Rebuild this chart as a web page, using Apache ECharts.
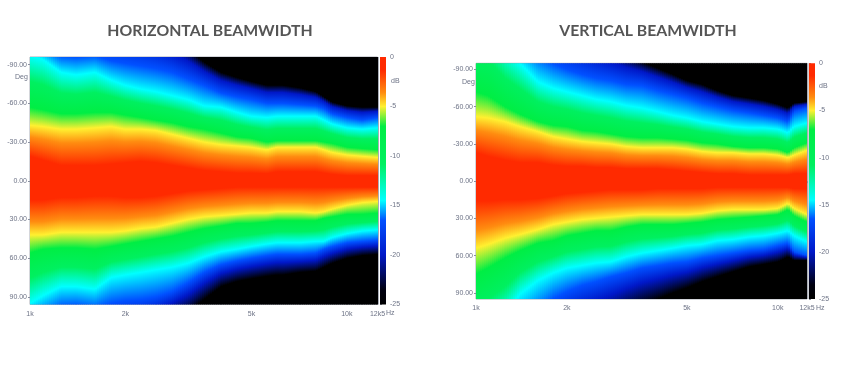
<!DOCTYPE html>
<html><head><meta charset="utf-8">
<style>html,body{margin:0;padding:0;background:#fff}#c{width:850px;height:366px}</style>
<script src="https://cdn.jsdelivr.net/npm/echarts@6/dist/echarts.min.js"></script>
</head><body><div id="c"></div>
<script>
// Frequencies (Hz) of the read columns
const hFreq=[1000,1100,1250,1400,1600,1800,2000,2240,2500,2800,3150,3550,4000,4500,5000,5600,6000,6300,7100,8000,8500,9000,10000,11200,12500];
const vFreq=[1000,1100,1250,1400,1600,1800,2000,2240,2500,2800,3150,3550,4000,4500,5000,5600,6300,7100,8000,9000,10000,10800,11300,12500];
// Horizontal: angle (deg) of each colour contour on the negative and positive side
const hRedTop=[-19,-16,-12,-12,-12,-13,-14,-15,-14,-12,-10,-8,-7,-6,-6,-5.5,-7,-7,-7,-7,-6,-5,-4,-4,-4];
const hYelTop=[-43,-42,-40,-40,-41,-42,-40,-40,-39,-36,-33,-30,-28,-27,-26,-24,-26,-26,-26,-26,-24,-22,-20,-19,-18];
const hGrnTop=[-57,-55,-52,-52,-53,-53,-51,-49,-47,-45,-42,-40,-37,-34,-33,-30,-31,-31,-31,-31,-30,-29,-26,-25,-24];
const hCyaTop=[-97,-94,-84,-82,-84,-78,-74,-71,-69,-66,-63,-58,-57,-53,-50,-49,-50,-50,-50,-50,-47,-44,-41,-40,-41];
const hBluTop=[-108,-104,-97,-96,-97,-93,-91,-89,-87,-84,-79,-74,-68,-65,-63,-60,-60,-60,-59,-58,-56,-52,-49,-47,-49];
const hBlkTop=[-140,-136,-133,-131,-133,-129,-125,-121,-116,-109,-102,-92,-84,-80,-77,-74,-74,-74,-72,-69,-65,-61,-58,-57,-57];
const hRedBot=[15,15,13,13,12,12,13,13,12,10,8,7,6,5,5,5,5,5,5,5,5,5,5,5,5];
const hYelBot=[42,42,40,40,40,40,39,37,36,33,30,28,27,26,25,25,24,24,24,25,24,22,19,17,16];
const hGrnBot=[56,53,52,52,53,51,49,47,45,43,40,37,35,33,33,32,31,31,31,31,29,28,26,26,25];
const hCyaBot=[95,89,82,82,84,75,73,71,69,67,64,59,55,53,51,49,48,48,48,47,47,44,41,39,38];
const hBluBot=[110,105,98,97,99,95,93,92,90,86,79,71,65,62,60,58,57,57,57,56,53,51,48,47,46];
const hBlkBot=[140,137,133,131,133,129,127,122,116,108,102,92,82,78,76,74,73,73,71,70,67,64,60,58,57];
// Vertical
const vRedTop=[-23,-20,-17,-15,-15,-13,-12,-12,-11,-11,-10,-10,-10,-9,-8,-7,-6,-6,-5,-5,-5,-5,-6,-6];
const vYelTop=[-52,-51,-48,-44,-40,-36,-34,-32,-31,-30,-28,-27,-27,-27,-26,-24,-23,-23,-22,-22,-21,-19,-21,-25];
const vGrnTop=[-72,-69,-60,-54,-48,-45,-44,-41,-40,-38,-36,-35,-35,-34,-33,-31,-30,-28,-27,-27,-26,-23,-27,-31];
const vCyaTop=[-130,-126,-106,-95,-80,-75,-72,-69,-66,-64,-61,-59,-56,-53,-51,-48,-46,-44,-43,-43,-42,-39,-44,-47];
const vBluTop=[-142,-138,-126,-114,-102,-95,-90,-86,-83,-81,-78,-77,-73,-70,-67,-63,-60,-57,-55,-53,-51,-48,-56,-59];
const vBlkTop=[-170,-166,-158,-146,-138,-130,-124,-118,-112,-106,-101,-96,-91,-86,-81,-78,-73,-69,-67,-65,-62,-59,-63,-64];
const vRedBot=[16,16,15,15,14,12,10,9,8,7,7,7,6,6,6,6,5,5,5,5,5,5,6,6];
const vYelBot=[54,51,46,43,39,35,33,31,30,29,28,27,27,27,27,26,24,23,23,23,22,18,22,27];
const vGrnBot=[75,70,62,56,50,48,44,42,40,40,37,35,35,35,34,33,31,30,29,28,27,23,28,33];
const vCyaBot=[128,120,108,91,80,74,70,68,66,65,61,58,56,54,52,51,48,47,45,44,42,40,44,49];
const vBluBot=[152,144,132,120,106,95,89,84,81,77,74,70,68,66,65,62,60,58,56,55,52,50,57,60];
const vBlkBot=[193,185,173,160,148,138,132,127,120,114,106,100,95,90,86,81,77,73,69,67,65,61,64,64];
// Axis ticks and labels
const freqLabelValues=[1000,2000,5000,10000,12500];
const freqLabels=['1k','2k','5k','10k','12k5'];
const freqTickValues=[1000,2000,3000,4000,5000,6000,7000,8000,9000,10000,12500];
const angleTicks=[-90,-60,-30,0,30,60,90];
const dbTicks=[0,-5,-10,-15,-20,-25];
// Colour scale (dB position on the bar and colour)
const scaleDb=[0,-1.3,-3.6,-5,-7,-10.8,-14.5,-16.5,-20,-23.5,-25];
const scaleColors=['#ff2a00','#ff2a00','#ff8c10','#fff030','#00ee44','#00f060','#00ffff','#0050ff','#0018c8','#000010','#000000'];

const TXT='#6d7386', FONT='Liberation Sans', EDGE=200;
const COL={blk:'#000000',dk:'#0018c8',blu:'#0050ff',cya:'#00ffff',mid:'#00f060',grn:'#00ee44',yel:'#fff030',org:'#ff8c10',red:'#ff2a00'};
const lg=f=>Math.log10(f);

function rows(freq,a){return freq.map((f,i)=>[lg(f)].concat(a.map(s=>s[i])));}

function stopsOf(r){ // r: [blkT,bluT,cyaT,grnT,yelT,redT,redB,yelB,grnB,cyaB,bluB,blkB]
  const n=v=>(v+EDGE)/(2*EDGE);
  return [
    [r[0],COL.blk],[r[1]+(r[0]-r[1])*.6,COL.dk],[r[1],COL.blu],[r[2],COL.cya],[(r[2]+r[3])/2,COL.mid],[r[3],COL.grn],[r[4],COL.yel],[r[5]+(r[4]-r[5])*.62,COL.org],[r[5],COL.red],
    [r[6],COL.red],[r[6]+(r[7]-r[6])*.62,COL.org],[r[7],COL.yel],[r[8],COL.grn],[(r[8]+r[9])/2,COL.mid],[r[9],COL.cya],[r[10],COL.blu],[r[11]+(r[10]-r[11])*.6,COL.dk],[r[11],COL.blk]
  ].map(s=>({offset:Math.max(0,Math.min(1,n(s[0]))),color:s[1]}));
}
function makeRender(data){
  return function(params,api){
    const i=params.dataIndex;
    if(i>=data.length-1) return null;
    const a=data[i],b=data[i+1];
    const x0=Math.round(api.coord([a[0],0])[0]), x1=Math.round(api.coord([b[0],0])[0]);
    const yT=api.coord([a[0],-EDGE])[1], yB=api.coord([a[0],EDGE])[1];
    const children=[];
    for(let x=x0;x<x1;x+=2){
      const w=Math.min(2,x1-x), t=(x+w/2-x0)/Math.max(1,x1-x0);
      const r=a.map((v,k)=>v+(b[k]-v)*t).slice(1);
      children.push({type:'rect',shape:{x:x,y:yT,width:w+.5,height:yB-yT},
        style:{fill:new echarts.graphic.LinearGradient(0,0,0,1,stopsOf(r))},silent:true});
    }
    return {type:'group',children:children};
  };
}
const hData=rows(hFreq,[hBlkTop,hBluTop,hCyaTop,hGrnTop,hYelTop,hRedTop,hRedBot,hYelBot,hGrnBot,hCyaBot,hBluBot,hBlkBot]);
const vData=rows(vFreq,[vBlkTop,vBluTop,vCyaTop,vGrnTop,vYelTop,vRedTop,vRedBot,vYelBot,vGrnBot,vCyaBot,vBluBot,vBlkBot]);

function freqLabel(v){
  const k=freqLabelValues.findIndex(f=>Math.abs(lg(f)-v)<1e-6);
  return k<0?'':freqLabels[k];
}
function xAxisFor(grid,margin){return {
  gridIndex:grid,type:'value',min:3,max:lg(12500),scale:true,splitLine:{show:false},
  axisLine:{show:false},
  axisTick:{show:true,length:2,lineStyle:{color:'#8a90a0',width:1},customValues:freqTickValues.map(lg)},
  axisLabel:{show:true,color:TXT,fontSize:7,fontFamily:FONT,margin:margin,customValues:freqLabelValues.map(lg),formatter:freqLabel}
};}
function yAxisFor(grid,range){return {
  gridIndex:grid,type:'value',inverse:true,min:-range,max:range,splitLine:{show:false},
  axisLine:{show:false},
  axisTick:{show:true,length:2,lineStyle:{color:'#8a90a0',width:1},customValues:angleTicks},
  axisLabel:{show:true,color:TXT,fontSize:7,fontFamily:FONT,margin:3,customValues:angleTicks,formatter:v=>v.toFixed(2)}
};}
function barY(grid){return {
  gridIndex:grid,type:'value',position:'right',min:-25,max:0,splitLine:{show:false},
  axisLine:{show:false},
  axisTick:{show:true,length:2,lineStyle:{color:'#8a90a0',width:1},customValues:dbTicks},
  axisLabel:{show:true,color:TXT,fontSize:7,fontFamily:FONT,margin:4,customValues:dbTicks,formatter:v=>String(v)}
};}
function barX(grid){return {gridIndex:grid,type:'value',min:0,max:1,show:false};}
function barSeries(ax){return {
  type:'custom',xAxisIndex:ax,yAxisIndex:ax,coordinateSystem:'cartesian2d',silent:true,
  data:[[0,0]],
  renderItem:function(p,api){
    const a=api.coord([0,0]),b=api.coord([1,-25]);
    return {type:'rect',shape:{x:a[0],y:a[1],width:b[0]-a[0],height:b[1]-a[1]},
      style:{fill:new echarts.graphic.LinearGradient(0,0,0,1,scaleDb.map((d,i)=>({offset:-d/25,color:scaleColors[i]})))}};
  }
};}
function plotSeries(ax,data){return {
  type:'custom',xAxisIndex:ax,yAxisIndex:ax,coordinateSystem:'cartesian2d',clip:true,silent:true,
  encode:{x:0,y:1},data:data,renderItem:makeRender(data)
};}
const titleStyle={color:'#555555',fontFamily:'Lato',fontWeight:'bold',fontSize:15.8};
const option={
  backgroundColor:'#ffffff',animation:false,tooltip:{show:false},
  title:[
    {text:'HORIZONTAL BEAMWIDTH',left:205,top:18,textAlign:'center',textStyle:titleStyle},
    {text:'VERTICAL BEAMWIDTH',left:643,top:18,textAlign:'center',textStyle:titleStyle}
  ],
  grid:[
    {left:30,top:57,width:347.5,height:247.5,show:true,borderColor:'#a8acb6',borderWidth:1,backgroundColor:'#000'},
    {left:380,top:57,width:6,height:247.5},
    {left:476,top:63.3,width:331,height:235.7,show:true,borderColor:'#a8acb6',borderWidth:1,backgroundColor:'#000'},
    {left:809,top:63.3,width:6,height:235.7}
  ],
  xAxis:[xAxisFor(0,6),barX(1),xAxisFor(2,6),barX(3)],
  yAxis:[yAxisFor(0,95.9),barY(1),yAxisFor(2,95),barY(3)],
  series:[plotSeries(0,hData),barSeries(1),plotSeries(2,vData),barSeries(3)],
  graphic:[
    {type:'text',left:15,top:74,style:{text:'Deg',fill:TXT,font:'7px "Liberation Sans"'}},
    {type:'text',left:462,top:79,style:{text:'Deg',fill:TXT,font:'7px "Liberation Sans"'}},
    {type:'text',left:391,top:78,style:{text:'dB',fill:TXT,font:'7px "Liberation Sans"'}},
    {type:'text',left:819,top:83,style:{text:'dB',fill:TXT,font:'7px "Liberation Sans"'}},
    {type:'text',left:386,top:310,style:{text:'Hz',fill:TXT,font:'7px "Liberation Sans"'}},
    {type:'text',left:816,top:305,style:{text:'Hz',fill:TXT,font:'7px "Liberation Sans"'}},
    {type:'rect',left:377.5,top:57,shape:{width:1.5,height:247.5},style:{fill:'#a8acb6'}},
    {type:'rect',left:807,top:63.3,shape:{width:1.5,height:235.7},style:{fill:'#a8acb6'}}
  ]
};
const chart=echarts.init(document.getElementById('c'),null,{renderer:'canvas'});
chart.setOption(option);
</script></body></html>
